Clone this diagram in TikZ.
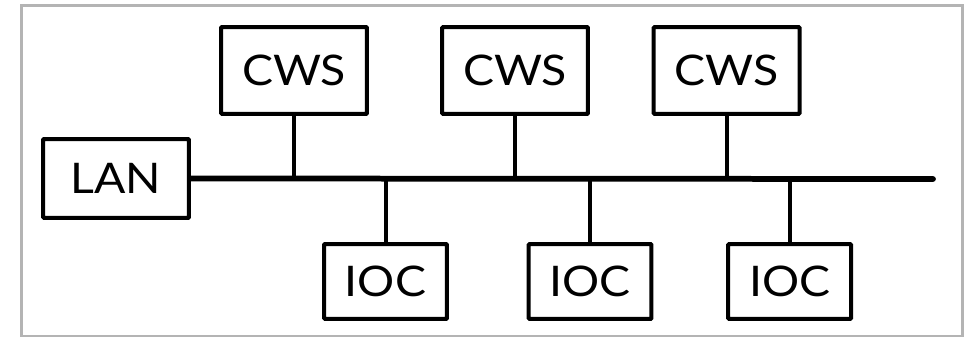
\documentclass[tikz,border=0pt]{standalone}
\usepackage{fontspec}
\setmainfont{Lato}[FakeStretch=1.1]
\usetikzlibrary{positioning}
\definecolor{framegray}{RGB}{180,180,180}

\begin{document}
\begin{tikzpicture}[x=0.02cm, y=-0.02cm,
    box/.style={draw, line width=0.08cm, rounded corners=0.6pt, inner sep=0pt,
      font=\fontsize{24}{28}\selectfont},
    cws/.style={box, minimum width=2.92cm, minimum height=1.74cm},
    ioc/.style={box, minimum width=2.46cm, minimum height=1.5cm},
    link/.style={line width=0.08cm},
    bus/.style={line width=0.115cm, line cap=round}]
    % Area della figura e cornice grigia
    \useasboundingbox (0,0) rectangle (970,337);
    \draw[line width=0.06cm, color=framegray] (21.5,5.5) rectangle (962,336.5);
    % Nodo LAN e linea del bus
    \node[box, minimum width=2.92cm, minimum height=1.58cm] (lan) at (116,178.5) {LAN};
    \coordinate (busend) at (933,179);
    \draw[bus] (lan.east) -- (busend);
    % Le tre CWS sopra il bus
    \node[cws] (cws1) at (294,70.5) {CWS};
    \node[cws] (cws2) at (515,70.5) {CWS};
    \node[cws] (cws3) at (726.7,70.5) {CWS};
    \draw[link] (cws1.south) -- (cws1.south |- lan.east);
    \draw[link] (cws2.south) -- (cws2.south |- lan.east);
    \draw[link] (cws3.south) -- (cws3.south |- lan.east);
    % I tre IOC sotto il bus
    \node[ioc] (ioc1) at (385.5,281.5) {IOC};
    \node[ioc] (ioc2) at (590,281.5) {IOC};
    \node[ioc] (ioc3) at (789.7,281.5) {IOC};
    \draw[link] (ioc1.north) -- (ioc1.north |- lan.east);
    \draw[link] (ioc2.north) -- (ioc2.north |- lan.east);
    \draw[link] (ioc3.north) -- (ioc3.north |- lan.east);
\end{tikzpicture}
\end{document}
